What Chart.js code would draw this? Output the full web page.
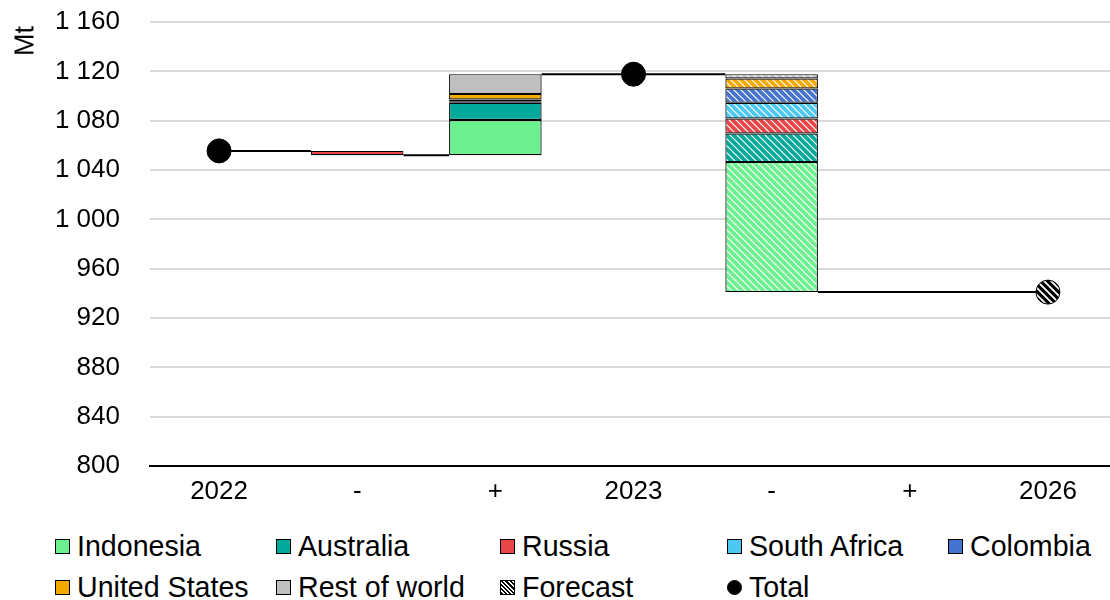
<!DOCTYPE html>
<html>
<head>
<meta charset="utf-8">
<script src="https://cdn.jsdelivr.net/npm/chart.js@4.4.1/dist/chart.umd.min.js"></script>
<style>
  html, body { margin: 0; padding: 0; background: #fff; overflow: hidden; }
  #wrap { position: relative; width: 1110px; height: 600px; overflow: hidden;
          font-family: "Liberation Sans", Arial, sans-serif; color: #000; }
  #c { position: absolute; left: 0; top: 0; }
  #ytitle { position: absolute; left: 25px; top: 41px; font-size: 27px;
            transform: translate(-50%, -50%) rotate(-90deg); white-space: nowrap; }
  .lg { position: absolute; height: 36px; display: flex; align-items: center;
        font-size: 28.6px; white-space: nowrap; }
  .sw { width: 15px; height: 15px; box-sizing: border-box; border: 1.5px solid #000;
        margin-right: 7px; flex: none; }
  .sw.dot { border-radius: 50%; background: #000; }
</style>
</head>
<body>
<div id="wrap">
  <canvas id="c"></canvas>
  <div id="ytitle">Mt</div>
  <div id="legend"></div>
</div>
<script>
// ---------- data ----------
const categories = ['2022', '-', '+', '2023', '-', '+', '2026'];
const totals     = [1055.5, null, null, 1117.7, null, null, 941.0];
const isForecast = [false, false, false, false, true, true, true];

const seriesNames = ['Indonesia', 'Australia', 'Russia', 'South Africa', 'Colombia', 'United States', 'Rest of world'];
// change per category (null = no bar)
const indonesia     = [null, null,  28.5, null, -105.4, null, null];
const australia     = [null, null,  14.0, null,  -23.2, null, null];
const russia        = [null, -3.5,  null, null,  -12.2, null, null];
const southAfrica   = [null, null,   1.2, null,  -12.7, null, null];
const colombia      = [null, null,   1.5, null,  -11.6, null, null];
const unitedStates  = [null, null,   4.5, null,   -8.1, null, null];
const restOfWorld   = [null, null,  16.0, null,   -3.5, null, null];
const seriesValues = [indonesia, australia, russia, southAfrica, colombia, unitedStates, restOfWorld];

const yTicks = { min: 800, max: 1160, step: 40 };

// ---------- styles ----------
const seriesColors = ['#6DF190', '#00A99A', '#E8474A', '#4DC8F2', '#4473D0', '#F2A900', '#BFBFBF'];
const BAR_PCT = 0.67;

function makePattern(color, stripe, size, lw) {
  const c = document.createElement('canvas');
  c.width = c.height = size;
  const g = c.getContext('2d');
  g.fillStyle = color; g.fillRect(0, 0, size, size);
  g.strokeStyle = stripe; g.lineWidth = lw;
  g.beginPath();
  g.moveTo(-1, -1); g.lineTo(size + 1, size + 1);
  g.moveTo(-2, size - 2); g.lineTo(2, size + 2);
  g.moveTo(size - 2, -2); g.lineTo(size + 2, 2);
  g.stroke();
  return g.createPattern(c, 'repeat');
}

// ---------- build floating bars ----------
const n = categories.length;
const afterLevel = new Array(n).fill(null);
const baseLevel = new Array(n).fill(null);
let level = totals[0];
for (let i = 0; i < n; i++) {
  if (totals[i] !== null) { level = totals[i]; afterLevel[i] = level; continue; }
  let pos = 0, neg = 0;
  seriesValues.forEach(s => { const v = s[i] || 0; if (v > 0) pos += v; else neg += v; });
  baseLevel[i] = level + neg;
  level = level + pos + neg;
  afterLevel[i] = level;
}
const hasBar = baseLevel.map((b, i) => b !== null && seriesValues.some(s => s[i]));

const cursor = baseLevel.slice();
const barDatasets = seriesValues.map((vals, k) => {
  const data = vals.map((v, i) => {
    if (!v) return null;
    const lo = cursor[i];
    cursor[i] = lo + Math.abs(v);
    return [lo, cursor[i]];
  });
  const solid = seriesColors[k];
  const hatch = makePattern(solid, '#fff', 7, 1.2);
  return {
    type: 'bar', label: seriesNames[k], data,
    xAxisID: 'x', yAxisID: 'y',
    grouped: false, barPercentage: BAR_PCT, categoryPercentage: 1,
    backgroundColor: data.map((d, i) => isForecast[i] ? hatch : solid),
    borderColor: '#000', borderWidth: 1.2, borderSkipped: false,
    order: 2 + k
  };
});

// connectors (edge to edge)
const connector = [];
for (let i = 0; i < n - 1; i++) {
  const x0 = i + (hasBar[i] ? BAR_PCT / 2 : 0);
  const x1 = i + 1 - (hasBar[i + 1] ? BAR_PCT / 2 : 0);
  connector.push({ x: x0, y: afterLevel[i] }, { x: x1, y: afterLevel[i] }, { x: x1, y: null });
}

const blackHatch = makePattern('#000', '#fff', 7, 1.8);

const datasets = [
  {
    type: 'line', label: 'connector', data: connector, xAxisID: 'x2', yAxisID: 'y',
    borderColor: '#000', borderWidth: 2, pointRadius: 0, spanGaps: false, order: 100
  },
  ...barDatasets,
  {
    type: 'line', label: 'Total', data: totals, xAxisID: 'x', yAxisID: 'y',
    showLine: false, pointRadius: 12, pointHoverRadius: 12,
    pointBackgroundColor: totals.map((t, i) => isForecast[i] ? blackHatch : '#000'),
    pointBorderColor: '#000', pointBorderWidth: 1, order: 0
  }
];

// ---------- chart ----------
const canvas = document.getElementById('c');
canvas.width = 1130; canvas.height = 510;
canvas.style.width = '1130px'; canvas.style.height = '510px';

Chart.defaults.font.family = '"Liberation Sans", Arial, sans-serif';
Chart.defaults.color = '#000';

const zeroPad = s => { s.paddingLeft = 0; s.paddingRight = 0; s.paddingTop = 0; s.paddingBottom = 0; };

new Chart(canvas, {
  data: { labels: categories, datasets },
  options: {
    responsive: false, animation: false, devicePixelRatio: 1,
    layout: { padding: { top: 22, right: 0, bottom: 0, left: 0 } },
    plugins: { legend: { display: false }, tooltip: { enabled: false } },
    scales: {
      x: {
        type: 'category', offset: true,
        grid: { display: false, drawTicks: false },
        border: { display: true, color: '#000', width: 2 },
        ticks: { font: { size: 26 }, padding: 10, color: '#000', maxRotation: 0, autoSkip: false },
        afterFit: s => { zeroPad(s); s.height = 44; }
      },
      x2: { type: 'linear', display: false, min: -0.5, max: 6.5, afterFit: s => { zeroPad(s); } },
      y: {
        min: yTicks.min, max: yTicks.max,
        grid: { color: '#D9D9D9', lineWidth: 2, drawTicks: false },
        border: { display: false },
        ticks: {
          stepSize: yTicks.step, padding: 30, font: { size: 26 }, color: '#000',
          callback: v => String(v).replace(/\B(?=(\d{3})+(?!\d))/g, ' ')
        },
        afterFit: s => { zeroPad(s); s.width = 150; }
      }
    }
  }
});

// ---------- HTML legend ----------
const legendCols = [55, 276, 500, 727, 948];
const legendRows = [546, 587];
const legendItems = seriesNames.map((name, k) => ({ name, bg: seriesColors[k], kind: 'box' }))
  .concat([{ name: 'Forecast', kind: 'hatch' }, { name: 'Total', kind: 'dot' }]);
const lg = document.getElementById('legend');
legendItems.forEach((it, idx) => {
  const row = Math.floor(idx / 5), col = idx % 5;
  const d = document.createElement('div');
  d.className = 'lg';
  d.style.left = legendCols[col] + 'px';
  d.style.top = (legendRows[row] - 18) + 'px';
  const sw = document.createElement('span');
  sw.className = 'sw' + (it.kind === 'dot' ? ' dot' : '');
  if (it.kind === 'box') sw.style.background = it.bg;
  if (it.kind === 'hatch') sw.style.background = 'repeating-linear-gradient(45deg, #000 0 1.5px, #fff 1.5px 3px)';
  d.appendChild(sw);
  const t = document.createElement('span');
  t.textContent = it.name;
  d.appendChild(t);
  lg.appendChild(d);
});
</script>
</body>
</html>
